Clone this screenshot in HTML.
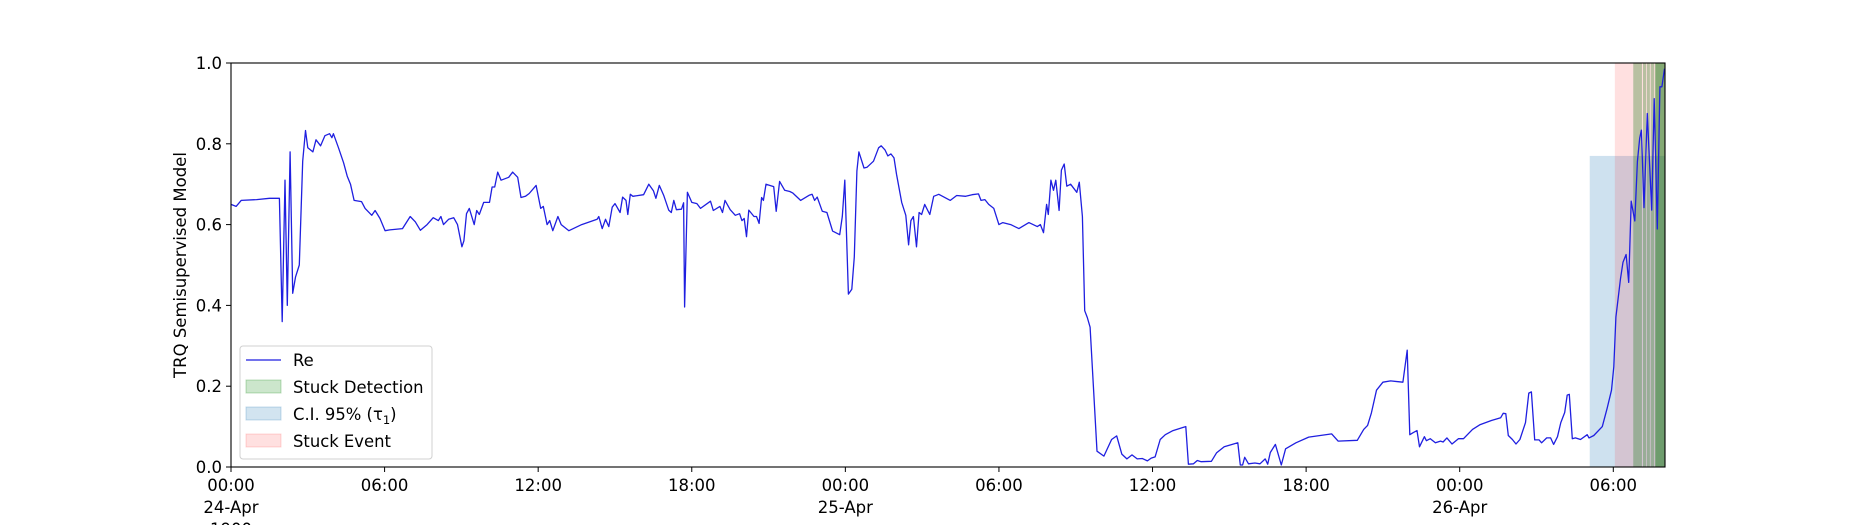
<!DOCTYPE html>
<html><head><meta charset="utf-8">
<style>
html,body{margin:0;padding:0;background:#fff;}
svg{display:block;font-family:"DejaVu Sans","Liberation Sans",sans-serif;}
</style></head>
<body>
<svg id="chart" width="1850" height="525" viewBox="0 0 1850 525"></svg>
<script>
const hours = [0,.2,.4,1.0,1.5,1.89,2.0,2.11,2.2,2.31,2.41,2.52,2.67,2.8,2.91,3.0,3.2,3.32,3.5,3.67,3.85,3.94,4.0,4.2,4.4,4.54,4.67,4.81,5.1,5.24,5.5,5.63,5.82,6.02,6.2,6.7,7.0,7.2,7.4,7.66,7.9,8.1,8.2,8.3,8.5,8.7,8.85,9.02,9.1,9.2,9.31,9.5,9.6,9.7,9.87,10.1,10.2,10.3,10.42,10.55,10.85,11.0,11.2,11.33,11.5,11.65,11.92,12.1,12.2,12.35,12.45,12.57,12.77,12.9,13.2,13.7,14.3,14.37,14.5,14.63,14.76,14.89,15.0,15.2,15.3,15.43,15.5,15.6,15.7,16.12,16.32,16.5,16.6,16.73,16.9,17.1,17.2,17.3,17.4,17.6,17.68,17.72,17.83,18.0,18.2,18.34,18.73,18.84,19.1,19.2,19.3,19.5,19.7,19.87,19.96,20.05,20.14,20.23,20.43,20.53,20.63,20.73,20.8,20.9,21.2,21.3,21.43,21.63,21.83,21.95,22.25,22.6,22.7,22.8,22.9,23.1,23.28,23.5,23.78,23.88,23.98,24.12,24.25,24.35,24.45,24.53,24.73,24.85,25.1,25.3,25.4,25.55,25.66,25.78,25.9,26.0,26.2,26.36,26.47,26.56,26.66,26.78,26.88,26.98,27.1,27.3,27.45,27.65,28.1,28.35,28.7,28.95,29.2,29.3,29.45,29.6,29.8,30.0,30.15,30.46,30.78,31.17,31.5,31.62,31.74,31.86,31.93,32.03,32.13,32.22,32.35,32.44,32.55,32.65,32.8,33.04,33.14,33.26,33.35,33.45,33.56,33.83,34.1,34.4,34.6,34.8,35.0,35.2,35.4,35.6,35.8,35.95,36.1,36.3,36.5,36.8,37.2,37.3,37.4,37.6,37.75,37.9,38.3,38.5,38.8,39.33,39.43,39.52,39.6,39.75,40.0,40.2,40.4,40.5,40.6,40.8,41.03,41.2,41.6,42.1,43.0,43.25,44.0,44.25,44.4,44.55,44.75,45.0,45.3,45.78,45.95,46.05,46.18,46.33,46.43,46.62,46.7,46.85,47.05,47.25,47.35,47.5,47.7,47.95,48.15,48.5,48.8,49.24,49.6,49.7,49.8,49.9,50.06,50.2,50.35,50.57,50.7,50.8,50.93,51.1,51.2,51.4,51.55,51.67,51.82,51.95,52.1,52.2,52.28,52.4,52.52,52.72,52.98,53.05,53.24,53.57,53.76,53.93,54.02,54.1,54.28,54.38,54.5,54.6,54.7,54.84,54.94,55.03,55.1,55.2,55.33,55.5,55.6,55.72,55.82,55.9,56.0];
const reValues = [.65,.645,.66,.662,.665,.665,.36,.71,.40,.78,.43,.47,.50,.757,.833,.79,.78,.81,.795,.82,.825,.815,.825,.79,.753,.72,.70,.66,.657,.64,.623,.635,.615,.585,.587,.59,.62,.607,.586,.6,.617,.61,.62,.6,.613,.617,.6,.545,.56,.627,.64,.6,.635,.625,.655,.655,.693,.693,.73,.71,.717,.73,.717,.667,.67,.677,.697,.64,.645,.6,.61,.585,.62,.6,.585,.6,.613,.62,.59,.613,.595,.643,.652,.63,.668,.66,.625,.675,.67,.674,.7,.684,.665,.697,.673,.636,.63,.66,.637,.638,.654,.396,.68,.655,.652,.64,.658,.635,.645,.63,.66,.637,.623,.627,.61,.615,.57,.636,.62,.62,.603,.667,.66,.70,.694,.633,.707,.685,.682,.678,.66,.673,.675,.66,.668,.633,.63,.584,.575,.62,.71,.428,.44,.52,.733,.78,.74,.742,.757,.79,.795,.785,.77,.775,.765,.725,.655,.623,.55,.61,.62,.545,.63,.625,.65,.625,.67,.675,.66,.672,.67,.674,.676,.66,.662,.65,.64,.60,.605,.6,.59,.605,.595,.6,.58,.65,.625,.71,.685,.71,.635,.735,.75,.695,.70,.68,.705,.62,.387,.37,.346,.039,.027,.068,.077,.032,.02,.03,.02,.021,.015,.022,.025,.068,.08,.09,.098,.10,.007,.008,.016,.013,.014,.035,.05,.06,.005,.005,.024,.008,.01,.008,.02,.007,.036,.056,.005,.045,.06,.074,.082,.064,.066,.093,.103,.134,.19,.21,.213,.21,.289,.08,.085,.09,.05,.075,.065,.07,.06,.064,.062,.072,.057,.07,.07,.093,.105,.115,.122,.133,.132,.078,.068,.057,.068,.11,.183,.186,.067,.067,.06,.072,.072,.056,.075,.11,.135,.178,.18,.07,.072,.068,.08,.072,.078,.1,.145,.19,.248,.371,.466,.507,.526,.457,.658,.609,.756,.814,.834,.642,.875,.636,.912,.589,.941,.941,.986,1.0];
const ciSpan = [53.08, 56.05];
const ciTop = [0.77];
const eventSpan = [54.06, 56.05];
const detectStarts = [54.78, 55.16, 55.31, 55.46, 55.63, 55.65];
const detectEnds = [55.12, 55.28, 55.43, 55.60, 56.05, 56.05];
const yTicks = [0, 0.2, 0.4, 0.6, 0.8, 1.0];
const yTickLabels = ["0.0","0.2","0.4","0.6","0.8","1.0"];
const xTicks = [0, 6, 12, 18, 24, 30, 36, 42, 48, 54];
const xTickLabels = ["00:00\n24-Apr\n1900","06:00","12:00","18:00","00:00\n25-Apr","06:00","12:00","18:00","00:00\n26-Apr","06:00"];

const L=231, R=1665, T=63, B=467, XMAX=56.02;
const xs = h => L + h/XMAX*(R-L);
const ys = v => B - v*(B-T);
const NS="http://www.w3.org/2000/svg";
const svg=document.getElementById('chart');
function mk(tag, attrs, parent){const e=document.createElementNS(NS,tag);for(const k in attrs)e.setAttribute(k,attrs[k]);(parent||svg).appendChild(e);return e;}

let r=mk('rect',{x:xs(ciSpan[0]),y:ys(ciTop[0]),width:xs(Math.min(ciSpan[1],XMAX))-xs(ciSpan[0]),height:B-ys(ciTop[0]),fill:'rgba(31,119,180,0.22)'});


r=mk('rect',{x:xs(eventSpan[0]),y:T,width:xs(Math.min(eventSpan[1],XMAX))-xs(eventSpan[0]),height:B-T,fill:'rgba(255,0,0,0.12)'});


for(let i=0;i<detectStarts.length;i++){
  const d=mk('rect',{x:xs(detectStarts[i]),y:T,width:xs(Math.min(detectEnds[i],XMAX))-xs(detectStarts[i]),height:B-T,fill:'rgba(0,110,0,0.28)'});
  
  
}
let dstr='';
for(let i=0;i<hours.length;i++){dstr+=(i?'L':'M')+xs(Math.min(hours[i],XMAX)).toFixed(1)+' '+ys(reValues[i]).toFixed(1);}
const line=mk('path',{d:dstr,fill:'none',stroke:'#1f1fe0','stroke-width':1.3,'stroke-linejoin':'round'});


const frame=mk('rect',{x:L,y:T,width:R-L,height:B-T,fill:'none',stroke:'#000','stroke-width':1.1});


yTicks.forEach((v,i)=>{
  mk('line',{x1:L-5,x2:L,y1:ys(v),y2:ys(v),stroke:'#000','stroke-width':1});
  const t=mk('text',{x:L-9,y:ys(v)+6,'text-anchor':'end','font-size':16.5,fill:'#000'});
  t.textContent=yTickLabels[i];
  
  
});
xTicks.forEach((h,i)=>{
  mk('line',{x1:xs(h),x2:xs(h),y1:B,y2:B+5,stroke:'#000','stroke-width':1});
  const lines=xTickLabels[i].split('\n');
  lines.forEach((s,j)=>{
    const t=mk('text',{x:xs(h),y:B+24+j*22,'text-anchor':'middle','font-size':16.5,fill:'#000'});
    t.textContent=s;
    
    
  });
});
</script>
<svg style="position:absolute;left:0;top:0" width="1850" height="525">
  <text x="186" y="265" transform="rotate(-90 186 265)" text-anchor="middle" font-size="16.5" font-family="DejaVu Sans, Liberation Sans, sans-serif">TRQ Semisupervised Model</text>
  <g font-family="DejaVu Sans, Liberation Sans, sans-serif" font-size="16.4">
    <rect x="240" y="346" width="192" height="113" rx="3" fill="rgba(255,255,255,0.8)" stroke="#d0d0d0"/>
    <line x1="246" y1="360" x2="281" y2="360" stroke="#1f1fe0" stroke-width="1.3"/>
    <text x="293" y="366">Re</text>
    <rect x="246" y="380" width="35" height="13" fill="rgba(0,128,0,0.2)" stroke="rgba(0,128,0,0.25)"/>
    <text x="293" y="393">Stuck Detection</text>
    <rect x="246" y="407" width="35" height="13" fill="rgba(31,119,180,0.2)" stroke="rgba(31,119,180,0.25)"/>
    <text x="293" y="420">C.I. 95% (τ<tspan font-size="11.5" dy="4">1</tspan><tspan dy="-4">)</tspan></text>
    <rect x="246" y="434" width="35" height="13" fill="rgba(255,0,0,0.12)" stroke="rgba(255,0,0,0.15)"/>
    <text x="293" y="447">Stuck Event</text>
  </g>
</svg>
</body></html>
